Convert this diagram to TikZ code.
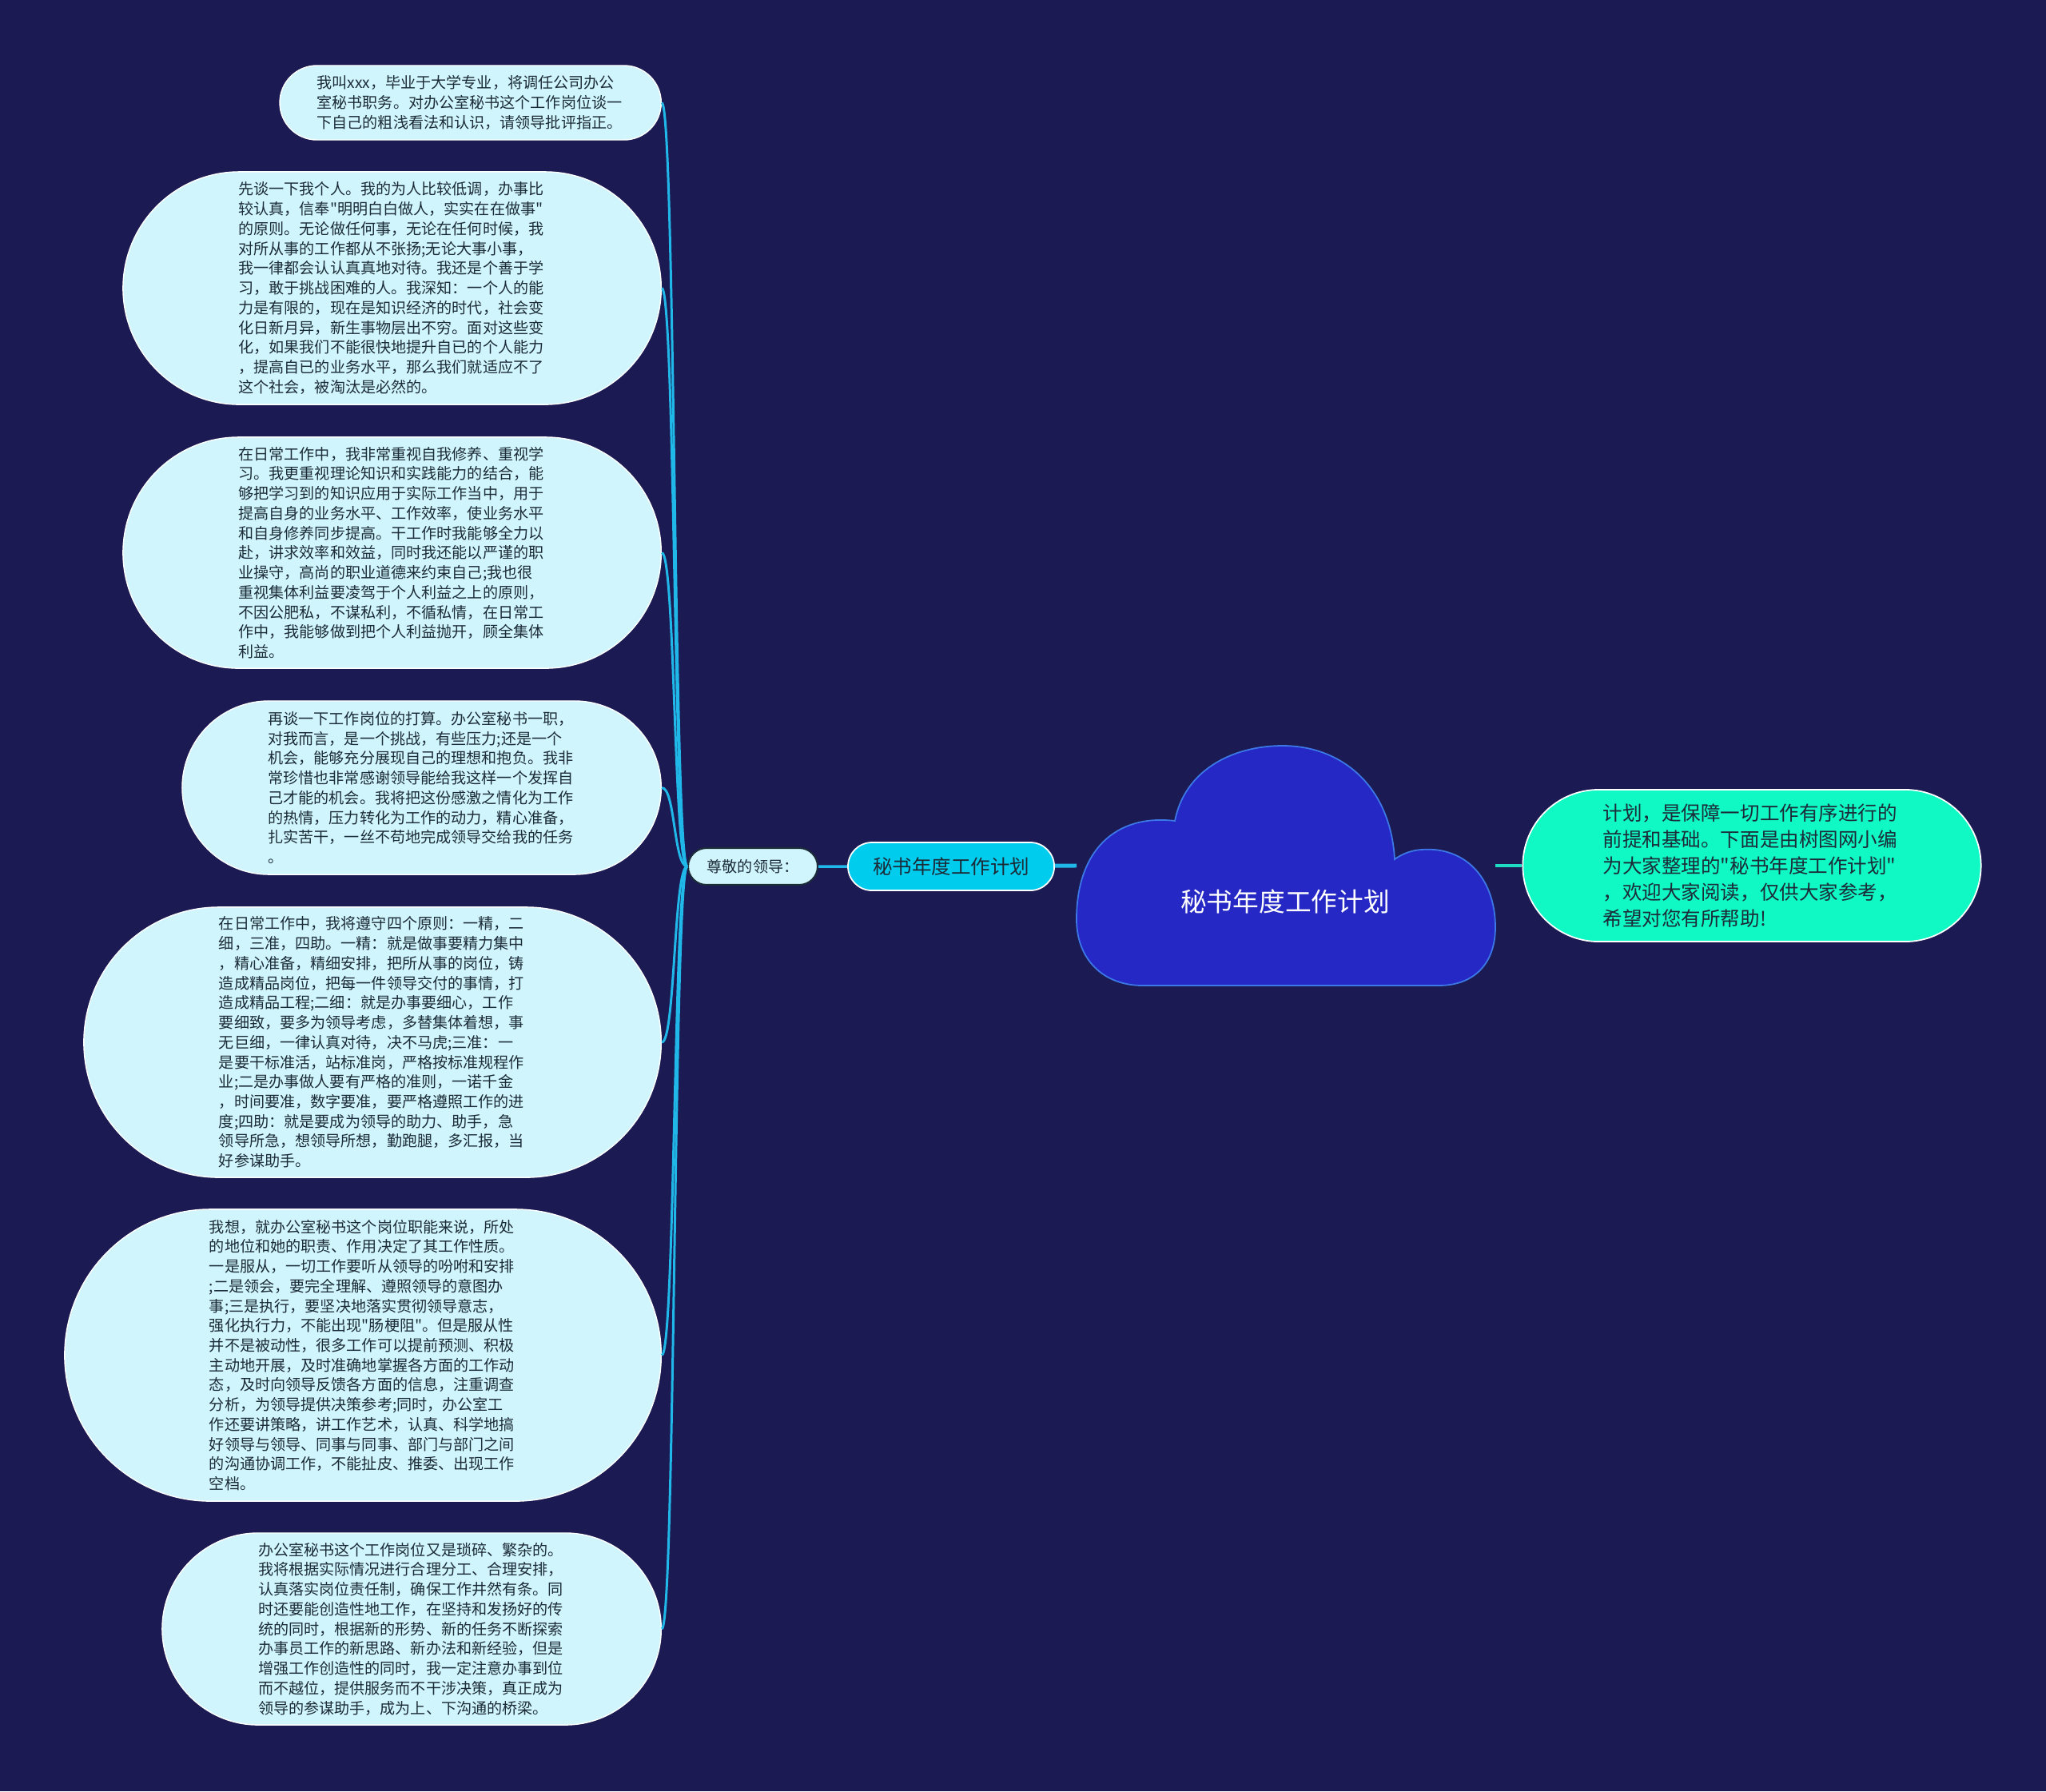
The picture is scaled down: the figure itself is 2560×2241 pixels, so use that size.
\documentclass[tikz,border=0pt]{standalone}
\usepackage{fontspec}
\setmainfont[Ligatures=TeXOff]{Noto Sans CJK SC}
\usetikzlibrary{shapes.misc,positioning}
\definecolor{bgnavy}{HTML}{1B1A52}
\definecolor{leafcyan}{HTML}{D0F5FC}
\definecolor{inkdark}{HTML}{1C2B38}
\definecolor{linkblue}{HTML}{20B8E8}
\definecolor{topiccyan}{HTML}{00CCEE}
\definecolor{cloudblue}{HTML}{2528C4}
\definecolor{cloudedge}{HTML}{3C78E8}
\definecolor{notemint}{HTML}{10F8C4}
\definecolor{linkmint}{HTML}{1CDCC4}
\tikzset{
	leafbox/.style={rounded rectangle, draw=white, line width=0.4pt, fill=leafcyan, text=inkdark,
		font=\fontsize{5.43pt}{7.03pt}\selectfont, text width=3.84cm, align=left,
		inner xsep=0pt, inner ysep=2pt, anchor=east},
	leadbox/.style={rounded rectangle, draw=inkdark, line width=0.6pt, fill=leafcyan, text=inkdark,
		font=\fontsize{5.43pt}{7.03pt}\selectfont, minimum width=1.69cm, minimum height=0.46cm, inner sep=1pt},
	topicbox/.style={rounded rectangle, draw=white, line width=0.5pt, fill=topiccyan, text=inkdark,
		font=\fontsize{6.97pt}{9pt}\selectfont, minimum width=2.65cm, minimum height=0.6cm, inner sep=1pt},
	notebox/.style={rounded rectangle, draw=white, line width=0.5pt, fill=notemint, text=inkdark,
		font=\fontsize{6.97pt}{9.39pt}\selectfont, text width=3.72cm, align=left,
		minimum width=5.73cm, minimum height=1.9cm, inner xsep=0pt},
	cloudshape/.style={fill=cloudblue, draw=cloudedge, line width=0.5pt},
	leafline/.style={draw=linkblue, line width=0.85pt},
	trunkline/.style={draw=linkblue, line width=1.4pt},
	noteline/.style={draw=linkmint, line width=1.4pt}
}
\begin{document}
\begin{tikzpicture}[x=0.01cm, y=-0.01cm]
	\fill[bgnavy] (0,0) rectangle (2560,2241);
	\node[leadbox] (lead) at (942,1084) {尊敬的领导：};
	\node[topicbox, right=0.36cm of lead] (topic) {秘书年度工作计划};
	\node[leafbox, minimum width=4.77cm, minimum height=0.93cm] (p1) at (828,128.5) {我叫xxx，毕业于大学专业，将调任公司办公\\室秘书职务。对办公室秘书这个工作岗位谈一\\下自己的粗浅看法和认识，请领导批评指正。};
	\node[leafbox, minimum width=6.73cm, minimum height=2.91cm] (p2) at (828,360.5) {先谈一下我个人。我的为人比较低调，办事比\\较认真，信奉"明明白白做人，实实在在做事"\\的原则。无论做任何事，无论在任何时候，我\\对所从事的工作都从不张扬;无论大事小事，\\我一律都会认认真真地对待。我还是个善于学\\习，敢于挑战困难的人。我深知：一个人的能\\力是有限的，现在是知识经济的时代，社会变\\化日新月异，新生事物层出不穷。面对这些变\\化，如果我们不能很快地提升自已的个人能力\\，提高自已的业务水平，那么我们就适应不了\\这个社会，被淘汰是必然的。};
	\node[leafbox, minimum width=6.73cm, minimum height=2.89cm] (p3) at (828,691.5) {在日常工作中，我非常重视自我修养、重视学\\习。我更重视理论知识和实践能力的结合，能\\够把学习到的知识应用于实际工作当中，用于\\提高自身的业务水平、工作效率，使业务水平\\和自身修养同步提高。干工作时我能够全力以\\赴，讲求效率和效益，同时我还能以严谨的职\\业操守，高尚的职业道德来约束自己;我也很\\重视集体利益要凌驾于个人利益之上的原则，\\不因公肥私，不谋私利，不循私情，在日常工\\作中，我能够做到把个人利益抛开，顾全集体\\利益。};
	\node[leafbox, minimum width=5.99cm, minimum height=2.17cm] (p4) at (828,985.5) {再谈一下工作岗位的打算。办公室秘书一职，\\对我而言，是一个挑战，有些压力;还是一个\\机会，能够充分展现自己的理想和抱负。我非\\常珍惜也非常感谢领导能给我这样一个发挥自\\己才能的机会。我将把这份感激之情化为工作\\的热情，压力转化为工作的动力，精心准备，\\扎实苦干，一丝不苟地完成领导交给我的任务\\。};
	\node[leafbox, minimum width=7.22cm, minimum height=3.38cm] (p5) at (828,1304) {在日常工作中，我将遵守四个原则：一精，二\\细，三准，四助。一精：就是做事要精力集中\\，精心准备，精细安排，把所从事的岗位，铸\\造成精品岗位，把每一件领导交付的事情，打\\造成精品工程;二细：就是办事要细心，工作\\要细致，要多为领导考虑，多替集体着想，事\\无巨细，一律认真对待，决不马虎;三准：一\\是要干标准活，站标准岗，严格按标准规程作\\业;二是办事做人要有严格的准则，一诺千金\\，时间要准，数字要准，要严格遵照工作的进\\度;四助：就是要成为领导的助力、助手，急\\领导所急，想领导所想，勤跑腿，多汇报，当\\好参谋助手。};
	\node[leafbox, minimum width=7.46cm, minimum height=3.65cm] (p6) at (828,1695.5) {我想，就办公室秘书这个岗位职能来说，所处\\的地位和她的职责、作用决定了其工作性质。\\一是服从，一切工作要听从领导的吩咐和安排\\;二是领会，要完全理解、遵照领导的意图办\\事;三是执行，要坚决地落实贯彻领导意志，\\强化执行力，不能出现"肠梗阻"。但是服从性\\并不是被动性，很多工作可以提前预测、积极\\主动地开展，及时准确地掌握各方面的工作动\\态，及时向领导反馈各方面的信息，注重调查\\分析，为领导提供决策参考;同时，办公室工\\作还要讲策略，讲工作艺术，认真、科学地搞\\好领导与领导、同事与同事、部门与部门之间\\的沟通协调工作，不能扯皮、推委、出现工作\\空档。};
	\node[leafbox, minimum width=6.24cm, minimum height=2.4cm] (p7) at (828,2038) {办公室秘书这个工作岗位又是琐碎、繁杂的。\\我将根据实际情况进行合理分工、合理安排，\\认真落实岗位责任制，确保工作井然有条。同\\时还要能创造性地工作，在坚持和发扬好的传\\统的同时，根据新的形势、新的任务不断探索\\办事员工作的新思路、新办法和新经验，但是\\增强工作创造性的同时，我一定注意办事到位\\而不越位，提供服务而不干涉决策，真正成为\\领导的参谋助手，成为上、下沟通的桥梁。};
	\node[notebox] (note) at (2192,1083) {计划，是保障一切工作有序进行的\\前提和基础。下面是由树图网小编\\为大家整理的"秘书年度工作计划"\\，欢迎大家阅读，仅供大家参考，\\希望对您有所帮助!};
	\coordinate (cl) at (1347,1083);
	\coordinate (cr) at (1871,1083);
	\draw[leafline] (lead.west) .. controls +(-17,0) and +(17,0) .. (p1.east);
	\draw[leafline] (lead.west) .. controls +(-17,0) and +(17,0) .. (p2.east);
	\draw[leafline] (lead.west) .. controls +(-17,0) and +(17,0) .. (p3.east);
	\draw[leafline] (lead.west) .. controls +(-17,0) and +(17,0) .. (p4.east);
	\draw[leafline] (lead.west) .. controls +(-17,0) and +(17,0) .. (p5.east);
	\draw[leafline] (lead.west) .. controls +(-17,0) and +(17,0) .. (p6.east);
	\draw[leafline] (lead.west) .. controls +(-17,0) and +(17,0) .. (p7.east);
	\draw[leafline, line width=1pt] (lead)--(topic);
	\draw[trunkline] (topic)--(cl);
	\draw[noteline] (cr)--(note);
	\filldraw[cloudshape] (1347,1150) .. controls (1347,1065) and (1395,1018) .. (1470,1027)
		.. controls (1482,965) and (1540,933) .. (1605,933)
		.. controls (1680,933) and (1740,985) .. (1745,1075)
		.. controls (1762,1063) and (1778,1062) .. (1795,1063)
		.. controls (1845,1068) and (1871,1110) .. (1871,1160)
		.. controls (1871,1205) and (1845,1233) .. (1800,1233)
		-- (1430,1233)
		.. controls (1380,1233) and (1347,1200) .. (1347,1150) -- cycle;
	\node[text=white, font=\fontsize{9.3pt}{11pt}\selectfont] (root) at (1608,1128) {秘书年度工作计划};
\end{tikzpicture}
\end{document}
